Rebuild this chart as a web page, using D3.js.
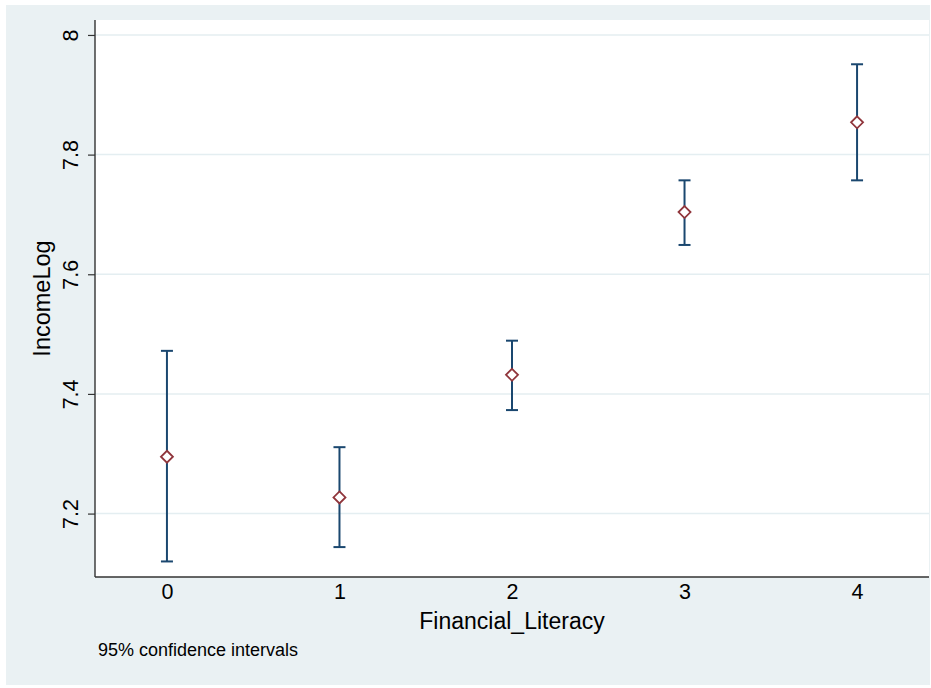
<!DOCTYPE html>
<html><head><meta charset="utf-8">
<script src="https://cdn.jsdelivr.net/npm/d3@7"></script>
<style>body{margin:0;background:#fff}svg{display:block;font-family:"Liberation Sans",Arial,Helvetica,sans-serif}</style>
</head><body><svg id="c" width="931" height="688"></svg>
<script>
const categories = [0, 1, 2, 3, 4];
const means = [7.295, 7.227, 7.432, 7.704, 7.854];
const lower = [7.120, 7.144, 7.373, 7.649, 7.757];
const upper = [7.472, 7.311, 7.489, 7.757, 7.951];
const yTicks = [7.2, 7.4, 7.6, 7.8, 8];
const xLabel = "Financial_Literacy";
const yLabel = "IncomeLog";
const note = "95% confidence intervals";

const svg = d3.select("#c");
svg.append("rect").attr("x",6).attr("y",5).attr("width",924).attr("height",680).attr("fill","#eaf1f3");
const L=95, R=929, T=20, B=577;
svg.append("rect").attr("x",L).attr("y",T).attr("width",R-L).attr("height",B-T).attr("fill","#fff");
const x = d3.scaleLinear().domain([-0.417, 4.417]).range([L, R]);
const y = d3.scaleLinear().domain([7.094, 8.025]).range([B, T]);

// gridlines
svg.append("g").selectAll("line").data(yTicks).join("line")
  .attr("x1",L).attr("x2",R).attr("y1",d=>y(d)).attr("y2",d=>y(d))
  .attr("stroke","#e4eef1").attr("stroke-width",1.5);

// y axis
const ya = svg.append("g").attr("transform",`translate(${L},0)`)
  .call(d3.axisLeft(y).tickValues(yTicks).tickFormat(d3.format("~g")).tickSize(7).tickPadding(0));
ya.select(".domain").remove();
ya.selectAll(".tick line").attr("stroke","#333").attr("stroke-width",1.2);
ya.selectAll(".tick text").attr("transform","rotate(-90)").attr("x",0).attr("y",-17)
  .attr("dy",0).attr("text-anchor","middle").attr("font-size",21.5).attr("fill","#000")
  .style("font-family","'Liberation Sans',Arial,sans-serif");
svg.append("line").attr("x1",L).attr("x2",L).attr("y1",T).attr("y2",B).attr("stroke","#333").attr("stroke-width",1.4);

// x axis
const xa = svg.append("g").attr("transform",`translate(0,${B})`)
  .call(d3.axisBottom(x).tickValues(categories).tickFormat(d3.format("d")).tickSize(0).tickPadding(7));
xa.select(".domain").remove();
xa.selectAll(".tick text").attr("font-size",21.5).attr("fill","#000").attr("dy","0.71em")
  .style("font-family","'Liberation Sans',Arial,sans-serif");
svg.append("line").attr("x1",L).attr("x2",R).attr("y1",B).attr("y2",B).attr("stroke","#333").attr("stroke-width",1.4);

// titles
svg.append("text").attr("x",(L+R)/2).attr("y",629).attr("text-anchor","middle")
  .attr("font-size",23).attr("fill","#000").text(xLabel);
svg.append("text").attr("transform",`translate(50,${(T+B)/2}) rotate(-90)`).attr("text-anchor","middle")
  .attr("font-size",23.5).attr("fill","#000").text(yLabel);
svg.append("text").attr("x",98).attr("y",656).attr("font-size",18).attr("fill","#000").text(note);

// CIs
const col = "#1a476f", capW = 6;
const g = svg.append("g");
categories.forEach((c,i)=>{
  g.append("line").attr("x1",x(c)).attr("x2",x(c)).attr("y1",y(lower[i])).attr("y2",y(upper[i])).attr("stroke",col).attr("stroke-width",2);
  [lower[i],upper[i]].forEach(v=>g.append("line").attr("x1",x(c)-capW).attr("x2",x(c)+capW).attr("y1",y(v)).attr("y2",y(v)).attr("stroke",col).attr("stroke-width",2));
});
// markers
const s = 6;
g.selectAll("path.m").data(categories).join("path").attr("class","m")
  .attr("d",(c,i)=>{const cx=x(c), cy=y(means[i]); return `M${cx},${cy-s}L${cx+s},${cy}L${cx},${cy+s}L${cx-s},${cy}Z`;})
  .attr("fill","#fff").attr("stroke","#90353b").attr("stroke-width",1.8);
</script></body></html>
